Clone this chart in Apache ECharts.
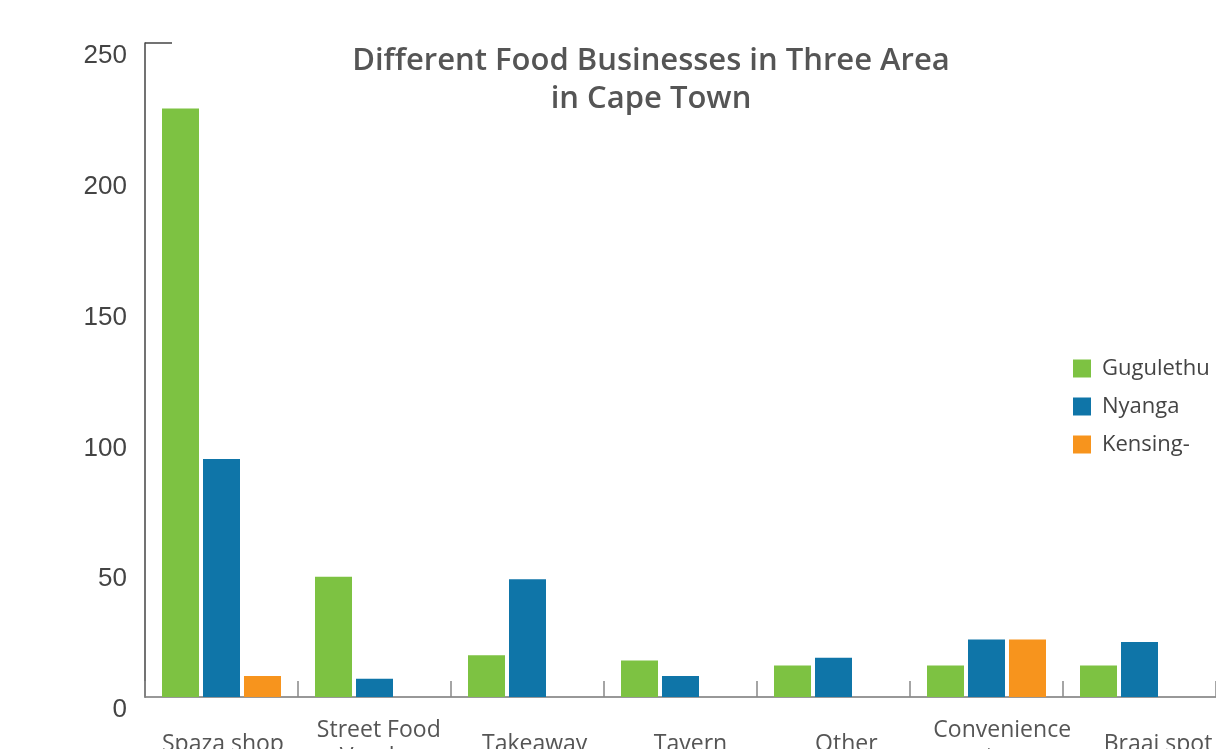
<!DOCTYPE html>
<html>
<head>
<meta charset="utf-8">
<script src="https://cdn.jsdelivr.net/npm/echarts@6/dist/echarts.min.js"></script>
<style>
html,body{margin:0;padding:0;background:#fff;}
#chart{width:1216px;height:749px;}
</style>
</head>
<body>
<div id="chart"></div>
<script>
const categories = ['Spaza shop', 'Street Food\nVendor', 'Takeaway', 'Tavern', 'Other', 'Convenience\nstore', 'Braai spot'];
const seriesNames = ['Gugulethu', 'Nyanga', 'Kensington'];
const legendLabels = ['Gugulethu', 'Nyanga', 'Kensing-'];
const gugulethu = [225, 46, 16, 14, 12, 12, 12];
const nyanga = [91, 7, 45, 8, 15, 22, 21];
const kensington = [8, null, null, null, null, 22, null];
const yTicks = [0, 50, 100, 150, 200, 250];
const colors = ['#7dc242', '#0f75a8', '#f7941d'];

const chart = echarts.init(document.getElementById('chart'), null, {renderer: 'canvas'});
const dataSets = [gugulethu, nyanga, kensington];
chart.setOption({
  animation: false,
  backgroundColor: '#ffffff',
  color: colors,
  title: {
    text: 'Different Food Businesses in Three Area\nin Cape Town',
    left: 646,
    textAlign: 'center',
    top: 37,
    textStyle: {fontFamily: 'Open Sans', fontWeight: 600, fontSize: 31, color: '#555555', lineHeight: 38}
  },
  legend: {
    orient: 'vertical',
    left: 1073,
    top: 357,
    padding: 0,
    itemWidth: 18,
    itemHeight: 18,
    itemGap: 15,
    icon: 'rect',
    formatter: function (name) { return legendLabels[seriesNames.indexOf(name)]; },
    textStyle: {fontFamily: 'Open Sans', fontSize: 22, lineHeight: 23, color: '#444444', padding: [0, 0, 0, 6]}
  },
  grid: [
    {left: 145, right: 0, top: 43, bottom: 52, containLabel: false, outerBoundsMode: 'none'},
    {left: 145, right: -20, top: 43, bottom: 52, containLabel: false, outerBoundsMode: 'none'}
  ],
  xAxis: [{
    type: 'category',
    gridIndex: 0,
    data: categories,
    axisLine: {lineStyle: {color: '#777777', width: 1.5}},
    axisTick: {show: true, inside: true, length: 16, lineStyle: {color: '#888888', width: 1.5}},
    axisLabel: {show: false},
    splitLine: {show: false}
  }, {
    type: 'category',
    gridIndex: 1,
    data: categories,
    axisLine: {show: false},
    axisTick: {show: false},
    axisLabel: {
      interval: 0,
      margin: 47,
      verticalAlign: 'middle',
      fontFamily: 'Open Sans',
      fontSize: 23,
      lineHeight: 27,
      color: '#555555'
    },
    splitLine: {show: false}
  }],
  yAxis: [{
    type: 'value',
    gridIndex: 0,
    min: yTicks[0],
    max: yTicks[yTicks.length - 1],
    interval: 50,
    axisLine: {show: true, lineStyle: {color: '#444444', width: 1.5}},
    axisTick: {show: true, inside: true, length: 27, customValues: [yTicks[yTicks.length - 1]], lineStyle: {color: '#444444', width: 1.5}},
    axisLabel: {
      margin: 18,
      fontFamily: 'Liberation Sans',
      fontSize: 26,
      lineHeight: 26,
      color: '#444444',
      verticalAlign: 'top'
    },
    splitLine: {show: false}
  }, {
    type: 'value',
    gridIndex: 1,
    min: yTicks[0],
    max: yTicks[yTicks.length - 1],
    show: false
  }],
  series: seriesNames.map(function (name, i) {
    return {
      name: name,
      type: 'bar',
      xAxisIndex: 0,
      yAxisIndex: 0,
      data: dataSets[i],
      barWidth: 37,
      barGap: '10.8%',
      itemStyle: {color: colors[i]}
    };
  })
});
</script>
</body>
</html>
